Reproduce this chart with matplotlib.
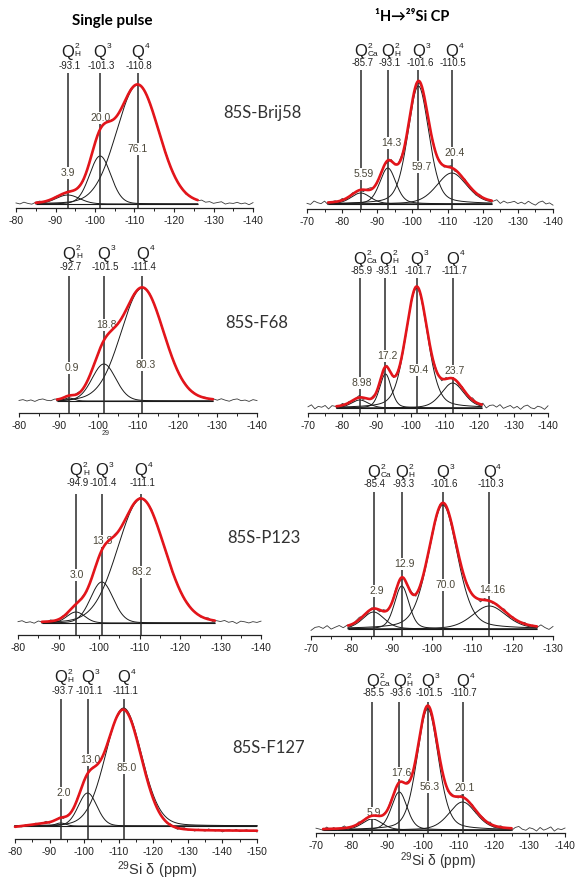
import numpy as np
import matplotlib.pyplot as plt
from matplotlib.transforms import offset_copy

plt.rcParams['font.family'] = ['Liberation Sans', 'DejaVu Sans']
plt.rcParams['mathtext.default'] = 'regular'
plt.rcParams['axes.unicode_minus'] = False

W, H = 579, 880

# peak names: superscript / subscript of Q
sp_sup = ['2', '3', '4']
sp_sub = ['H', '', '']
cp_sup = ['2', '2', '3', '4']
cp_sub = ['Ca', 'H', '', '']
samples = ['85S-Brij58', '85S-F68', '85S-P123', '85S-F127']

# peak centres (ppm, where drawn), heights (a.u.), widths (ppm)
brij_sp_pos = [-93.1, -101.3, -110.8]
brij_sp_hgt = [9, 48, 119]
brij_sp_wid = [3.0, 2.7, 5.4]
brij_sp_shift = ['-93.1', '-101.3', '-110.8']
brij_sp_area = ['3.9', '20.0', '76.1']
brij_sp_fit = (-85, -126)

brij_cp_pos = [-85.3, -93.0, -101.7, -111.2]
brij_cp_hgt = [11, 36, 118, 31]
brij_cp_wid = [2.8, 2.3, 3.0, 4.3]
brij_cp_shift = ['-85.7', '-93.1', '-101.6', '-110.5']
brij_cp_area = ['5.59', '14.3', '59.7', '20.4']
brij_cp_fit = (-76, -122.6)

f68_sp_pos = [-92.6, -101.4, -111.1]
f68_sp_hgt = [3, 37, 113]
f68_sp_wid = [1.3, 3.0, 5.4]
f68_sp_shift = ['-92.7', '-101.5', '-111.4']
f68_sp_area = ['0.9', '18.8', '80.3']
f68_sp_fit = (-89.6, -128.9)

f68_cp_pos = [-85.1, -92.6, -101.7, -112.2]
f68_cp_hgt = [8, 34, 120, 25]
f68_cp_wid = [2.5, 1.7, 3.2, 3.3]
f68_cp_shift = ['-85.9', '-93.1', '-101.7', '-111.7']
f68_cp_area = ['8.98', '17.2', '50.4', '23.7']
f68_cp_fit = (-78.3, -120.7)

p123_sp_pos = [-94.3, -100.7, -110.4]
p123_sp_hgt = [11, 41, 124]
p123_sp_wid = [2.2, 2.8, 5.8]
p123_sp_shift = ['-94.9', '-101.4', '-111.1']
p123_sp_area = ['3.0', '13.8', '83.2']
p123_sp_fit = (-85.9, -128.6)

p123_cp_pos = [-85.5, -92.5, -102.7, -114.2]
p123_cp_hgt = [17, 43, 124, 23]
p123_cp_wid = [2.7, 1.8, 3.6, 4.2]
p123_cp_shift = ['-85.4', '-93.3', '-101.6', '-110.3']
p123_cp_area = ['2.9', '12.9', '70.0', '14.16']
p123_cp_fit = (-79.2, -126)

f127_sp_pos = [-93.2, -101.0, -111.4]
f127_sp_hgt = [3, 33, 118]
f127_sp_wid = [1.5, 2.7, 5.2]
f127_sp_shift = ['-93.7', '-101.1', '-111.1']
f127_sp_area = ['2.0', '13.0', '85.0']
f127_sp_fit = (-80, -150)
f127_sp_bg = (-95, 12, 8, -5)   # broad background: centre, width, height, offset

f127_cp_pos = [-85.8, -93.4, -101.4, -111.2]
f127_cp_hgt = [11, 38, 121, 28]
f127_cp_wid = [2.8, 2.2, 3.0, 3.8]
f127_cp_shift = ['-85.5', '-93.6', '-101.5', '-110.7']
f127_cp_area = ['5.9', '17.6', '56.3', '20.1']
f127_cp_fit = (-72, -125)

ripple = [0.3, -0.5, 0.8, -0.2, -0.9, 0.4, 1.0, -0.3, 0.2, -0.8, 0.6, -0.1,
          -0.6, 0.9, 0.1, -0.4, 0.7, -1.0, 0.2, 0.5, -0.3, 0.8, -0.7, 0.0,
          0.6, -0.5, 0.3, -0.9, 0.4, 0.9, -0.2, -0.6, 0.5, 0.1, -0.8, 0.7,
          -0.4, 0.2, 1.0, -0.7, 0.3, -0.1, 0.6, -0.9, 0.4, 0.0, -0.5, 0.8,
          -0.3, 0.5, -0.6, 0.2, 0.9, -0.8, 0.1, -0.2, 0.7, -0.4, 0.3, -1.0,
          0.6, 0.2, -0.5, 0.4, -0.1, 0.8, -0.7, 0.5, -0.3, 0.1, 0.6, -0.4]

panels = [
    (brij_sp_pos, brij_sp_hgt, brij_sp_wid, brij_sp_shift, brij_sp_area, brij_sp_fit, sp_sup, sp_sub, None),
    (brij_cp_pos, brij_cp_hgt, brij_cp_wid, brij_cp_shift, brij_cp_area, brij_cp_fit, cp_sup, cp_sub, None),
    (f68_sp_pos, f68_sp_hgt, f68_sp_wid, f68_sp_shift, f68_sp_area, f68_sp_fit, sp_sup, sp_sub, None),
    (f68_cp_pos, f68_cp_hgt, f68_cp_wid, f68_cp_shift, f68_cp_area, f68_cp_fit, cp_sup, cp_sub, None),
    (p123_sp_pos, p123_sp_hgt, p123_sp_wid, p123_sp_shift, p123_sp_area, p123_sp_fit, sp_sup, sp_sub, None),
    (p123_cp_pos, p123_cp_hgt, p123_cp_wid, p123_cp_shift, p123_cp_area, p123_cp_fit, cp_sup, cp_sub, None),
    (f127_sp_pos, f127_sp_hgt, f127_sp_wid, f127_sp_shift, f127_sp_area, f127_sp_fit, sp_sup, sp_sub, f127_sp_bg),
    (f127_cp_pos, f127_cp_hgt, f127_cp_wid, f127_cp_shift, f127_cp_area, f127_cp_fit, cp_sup, cp_sub, None),
]

# pixel layout: x0, x1, xlim, spine y, baseline y, Q y, value y, line top, area label y, area dx, eta, noise, ripple shift
layouts = [
    (16, 253, (-80, -140), 208, 204, 57, 66, 73, [173, 118, 149], 0, 0.1, 1.3, 0),
    (307, 553, (-70, -140), 209, 204, 56, 63, 70, [174, 143, 167, 153], 3, 0.3, 2.2, 11),
    (19, 257, (-80, -140), 413, 401, 259, 267, 276, [368, 325, 365], 3, 0.1, 1.3, 23),
    (308, 548, (-70, -140), 413, 408, 264, 271, 278, [383, 356, 370, 371], 2, 0.3, 2.4, 37),
    (18, 261, (-80, -140), 635, 623, 475, 483, 494, [575, 541, 572], 1, 0.1, 1.5, 5),
    (311, 553, (-70, -130), 636, 629, 477, 484, 492, [591, 564, 585, 590], 3, 0.3, 2.4, 17),
    (15, 257, (-80, -150), 839, 826, 682, 691, 699, [793, 760, 768], 3, 0.1, 1.5, 29),
    (316, 565, (-70, -140), 833, 830, 686, 693, 702, [813, 773, 787, 788], 2, 0.3, 2.4, 44),
]


def peak(x, c, h, w, eta):
    g = np.exp(-0.5 * ((x - c) / w) ** 2)
    lor = 1.0 / (1.0 + ((x - c) / (1.1774 * w)) ** 2)
    return h * ((1 - eta) * g + eta * lor)


def background(x, bg):
    if bg is None:
        return np.zeros_like(x)
    c, w, h, off = bg
    return h * np.exp(-0.5 * ((x - c) / w) ** 2) + off


fig = plt.figure(figsize=(W / 100, H / 100), dpi=100)

for (pos, hgt, wid, shift, area, fit, sups, subs, bg), lay in zip(panels, layouts):
    x0, x1, (xl, xr), spine, base, q_y, val_y, top_y, area_y, adx, eta, noise, k = lay
    ax = fig.add_axes([x0 / W, 1 - spine / H, (x1 - x0) / W, 160 / H])
    ax.set_xlim(xl, xr)
    ax.set_ylim(0, 160)
    ax.patch.set_alpha(0)
    for s in ['left', 'right', 'top']:
        ax.spines[s].set_visible(False)
    ax.spines['bottom'].set_linewidth(0.9)
    ax.spines['bottom'].set_color('#222222')
    ax.yaxis.set_visible(False)
    ax.set_xticks(np.arange(xl, xr - 1, -10))
    ax.set_xticks(np.arange(xl, xr - 1, -5), minor=True)
    ax.tick_params(axis='x', which='major', direction='out', length=3, width=0.8,
                   labelsize=7.5, pad=2.5, colors='#222222')
    ax.tick_params(axis='x', which='minor', direction='out', length=2.5, width=0.7,
                   colors='#222222')

    b = spine - base
    ppx = (x1 - x0) / abs(xr - xl)

    xf = np.linspace(fit[0], fit[1], 500)
    comps = [peak(xf, c, h, w, eta) for c, h, w in zip(pos, hgt, wid)]
    ax.hlines(b, fit[0], fit[1], color='#1a1a1a', lw=0.8, zorder=2)
    for cmp in comps:
        ax.plot(xf, b + cmp, color='#1a1a1a', lw=0.7, zorder=2, clip_on=False)

    xe = np.arange(xl, xr - 0.5, -1.0)
    ye = b + sum(peak(xe, c, h, w, eta) for c, h, w in zip(pos, hgt, wid)) + background(xe, bg)
    ye = ye + noise * np.roll(ripple, -k)[:len(xe)]
    ax.plot(xe, ye, color='#3a3a3a', lw=0.6, zorder=2, clip_on=False)

    ax.plot(xf, b + sum(comps) + background(xf, bg), color='#e3151b', lw=1.9,
            zorder=5, clip_on=False, solid_capstyle='round')

    ax.vlines(pos, 0, spine - top_y, color='#2a2a2a', lw=1.1, zorder=3)

    tr_sup = offset_copy(ax.transData, fig=fig, x=7.0, y=10.0, units='dots')
    tr_sub = offset_copy(ax.transData, fig=fig, x=7.0, y=2.0, units='dots')
    for c, sp, sb, sh, ar, ay in zip(pos, sups, subs, shift, area, area_y):
        ax.text(c, spine - q_y, 'Q', ha='center', va='baseline', fontsize=12,
                color='#1e1e1e')
        ax.text(c, spine - q_y, sp, ha='left', va='center', fontsize=6,
                color='#1e1e1e', transform=tr_sup)
        if sb:
            ax.text(c, spine - q_y, sb, ha='left', va='center', fontsize=6,
                    color='#1e1e1e', transform=tr_sub)
        ax.text(c - 1.5 / ppx, spine - val_y, sh, ha='center', va='center',
                fontsize=7, color='#222222', zorder=4,
                bbox=dict(fc='white', ec='none', pad=0.2))
        ax.text(c - adx / ppx, spine - ay, ar, ha='center', va='center',
                fontsize=7.5, color='#4a4638', zorder=4,
                bbox=dict(fc='white', ec='none', pad=0.4))

# sample names between the two columns
name_xy = [(223, 113), (225, 323), (227, 538), (232, 748)]
for nm, (x, y) in zip(samples, name_xy):
    fig.text(x / W, 1 - y / H, nm, ha='left', va='center', fontsize=12,
             family=['Lato', 'DejaVu Sans'], color='#333333')

fig.text(112 / W, 1 - 21 / H, 'Single pulse', ha='center', va='center',
         fontsize=11, fontweight='bold', family=['Lato', 'DejaVu Sans'])
fig.text(412 / W, 1 - 17 / H, '¹H→²⁹Si CP', ha='center', va='center',
         fontsize=10.5, fontweight='bold', family=['Lato', 'DejaVu Sans'])
fig.text(106 / W, 1 - 433 / H, '29', ha='center', va='center', fontsize=5,
         color='#333333')

fig.text(157 / W, 1 - 870 / H, r'$^{29}$Si δ (ppm)', ha='center', va='center',
         fontsize=10.5, color='#333333')
fig.text(438 / W, 1 - 861 / H, r'$^{29}$Si δ (ppm)', ha='center', va='center',
         fontsize=10, color='#333333')

fig.savefig('out.png', dpi=100)
